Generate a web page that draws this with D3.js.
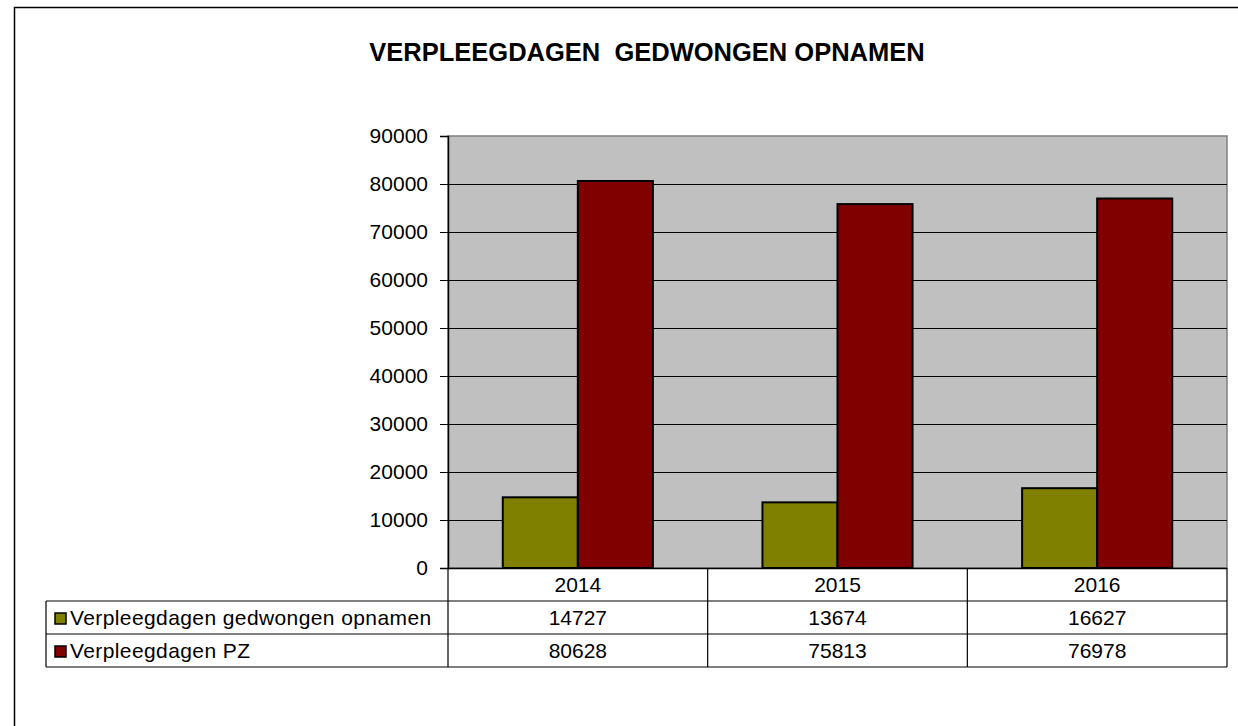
<!DOCTYPE html>
<html>
<head>
<meta charset="utf-8">
<script src="https://cdn.jsdelivr.net/npm/d3@7"></script>
<style>
  body { margin: 0; background: #fff; }
  text { font-family: "Liberation Sans", Arial, sans-serif; fill: #000; }
</style>
</head>
<body>
<svg width="1238" height="726"></svg>
<script>
var years = ["2014", "2015", "2016"];
var seriesNames = ["Verpleegdagen gedwongen opnamen", "Verpleegdagen PZ"];
var gedwongen = [14727, 13674, 16627];
var pz = [80628, 75813, 76978];
var seriesColors = ["#808000", "#800000"];
var yTicks = [0, 10000, 20000, 30000, 40000, 50000, 60000, 70000, 80000, 90000];

var svg = d3.select("svg");

let series = [gedwongen, pz];
let plotLeft = 448, plotRight = 1227, plotTop = 136, plotBottom = 568;
let rowH = 33, tableLeft = 46;

// outer chart border
svg.append("path")
  .attr("d", "M14.5,726 L14.5,7.5 L1238,7.5")
  .attr("fill", "none")
  .attr("stroke", "#000")
  .attr("stroke-width", 1.5);

svg.append("text")
  .attr("x", 647)
  .attr("y", 61)
  .attr("text-anchor", "middle")
  .attr("xml:space", "preserve")
  .style("font-weight", "bold")
  .style("font-size", "25.5px")
  .text("VERPLEEGDAGEN  GEDWONGEN OPNAMEN");

let x0 = d3.scaleBand()
  .domain(years)
  .range([plotLeft, plotRight]);

let x1 = d3.scaleBand()
  .domain([0, 1])
  .range([0, x0.bandwidth()])
  .paddingOuter(0.73);

let y = d3.scaleLinear()
  .domain([0, 90000])
  .range([plotBottom, plotTop]);

// plot area
svg.append("rect")
  .attr("x", plotLeft)
  .attr("y", plotTop)
  .attr("width", plotRight - plotLeft)
  .attr("height", plotBottom - plotTop)
  .attr("fill", "#c0c0c0")
  .attr("stroke", "#808080")
  .attr("stroke-width", 1.5);

// gridlines
svg.append("g")
  .selectAll("line")
  .data(yTicks.slice(1, -1))
  .enter().append("line")
  .attr("x1", plotLeft)
  .attr("x2", plotRight)
  .attr("y1", function (d) { return Math.round(y(d)) + 0.5 })
  .attr("y2", function (d) { return Math.round(y(d)) + 0.5 })
  .attr("stroke", "#000")
  .attr("stroke-width", 1);

// y axis
let yAxis = d3.axisLeft(y)
  .tickValues(yTicks)
  .tickFormat(d3.format("d"))
  .tickSize(8)
  .tickPadding(12);

let yg = svg.append("g")
  .attr("transform", "translate(" + plotLeft + ",0)")
  .call(yAxis);
yg.select(".domain").attr("stroke", "#000").attr("stroke-width", 1.5);
yg.selectAll(".tick line").attr("stroke", "#000");
yg.selectAll(".tick text")
  .style("font-size", "21px")
  .attr("fill", "#000");

// bars
let groups = svg.append("g")
  .selectAll("g")
  .data(years)
  .enter().append("g")
  .attr("transform", function (d) { return "translate(" + x0(d) + ",0)" });

groups.selectAll("rect")
  .data(function (d, i) {
    return series.map(function (s, k) { return { k: k, value: s[i] } });
  })
  .enter().append("rect")
  .attr("x", function (d) { return x1(d.k) })
  .attr("y", function (d) { return y(d.value) })
  .attr("width", x1.bandwidth())
  .attr("height", function (d) { return plotBottom - y(d.value) })
  .attr("fill", function (d) { return seriesColors[d.k] })
  .attr("stroke", "#000")
  .attr("stroke-width", 2);

// x axis line
svg.append("line")
  .attr("x1", plotLeft)
  .attr("x2", plotRight)
  .attr("y1", plotBottom + 0.5)
  .attr("y2", plotBottom + 0.5)
  .attr("stroke", "#000")
  .attr("stroke-width", 1.5);

// data table
let tbl = svg.append("g").attr("stroke", "#000").attr("stroke-width", 1.2);
let tableBottom = plotBottom + rowH * 3;

// verticals
tbl.append("line")
  .attr("x1", plotLeft).attr("x2", plotLeft)
  .attr("y1", plotBottom).attr("y2", tableBottom);
years.forEach(function (yr) {
  let xr = x0(yr) + x0.bandwidth();
  tbl.append("line")
    .attr("x1", xr).attr("x2", xr)
    .attr("y1", plotBottom).attr("y2", tableBottom);
});
tbl.append("line")
  .attr("x1", tableLeft).attr("x2", tableLeft)
  .attr("y1", plotBottom + rowH).attr("y2", tableBottom);

// horizontals
[1, 2, 3].forEach(function (r) {
  tbl.append("line")
    .attr("x1", tableLeft).attr("x2", plotRight)
    .attr("y1", plotBottom + rowH * r).attr("y2", plotBottom + rowH * r);
});

// header labels
svg.append("g")
  .selectAll("text")
  .data(years)
  .enter().append("text")
  .attr("x", function (d) { return x0(d) + x0.bandwidth() / 2 })
  .attr("y", plotBottom + 24)
  .attr("text-anchor", "middle")
  .style("font-size", "21px")
  .text(function (d) { return d });

// value rows
series.forEach(function (s, k) {
  let rowTop = plotBottom + rowH * (k + 1);
  svg.append("g")
    .selectAll("text")
    .data(s)
    .enter().append("text")
    .attr("x", function (d, i) { return x0(years[i]) + x0.bandwidth() / 2 })
    .attr("y", rowTop + 24)
    .attr("text-anchor", "middle")
    .style("font-size", "21px")
    .text(function (d) { return d });

  svg.append("rect")
    .attr("x", tableLeft + 9)
    .attr("y", rowTop + 12)
    .attr("width", 11)
    .attr("height", 11)
    .attr("fill", seriesColors[k])
    .attr("stroke", "#000")
    .attr("stroke-width", 1.5);

  svg.append("text")
    .attr("x", tableLeft + 24)
    .attr("y", rowTop + 24)
    .style("font-size", "21px")
    .style("letter-spacing", "0.4px")
    .text(seriesNames[k]);
});
</script>
</body>
</html>
